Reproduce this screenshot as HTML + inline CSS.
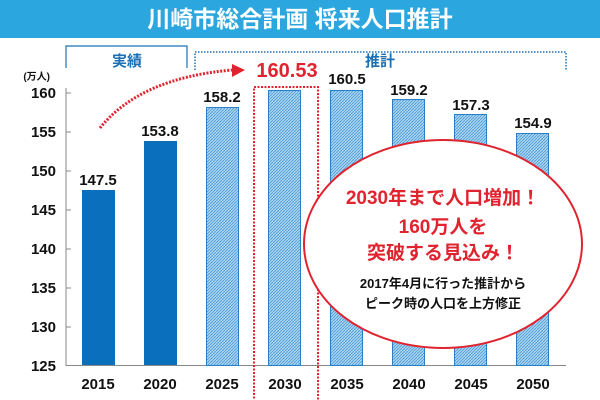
<!DOCTYPE html>
<html><head><meta charset="utf-8"><style>
body{margin:0;background:#fff}
svg{display:block;font-family:"Liberation Sans","Noto Sans CJK JP",sans-serif;font-weight:bold}
</style></head><body>
<svg width="600" height="400" viewBox="0 0 600 400">
<defs>
<pattern id="h" width="3" height="3" patternUnits="userSpaceOnUse">
<rect width="3" height="3" fill="#a9d5f1"/>
<path d="M0,3 L3,0" stroke="#4a97d4" stroke-width="0.8"/>
</pattern>
</defs>
<rect x="0" y="0" width="600" height="38" fill="#2ca6df"/>
<text x="300" y="27" font-size="23" fill="#fff" text-anchor="middle">川崎市総合計画 将来人口推計</text>
<path d="M66,68 V46 H187 V68" fill="none" stroke="#1a70b8" stroke-width="1.2"/>
<text x="127" y="66" font-size="15" fill="#1a6fb5" text-anchor="middle">実績</text>
<path d="M195,70 V52 H566 V70" fill="none" stroke="#1a70b8" stroke-width="1.5" stroke-dasharray="1.5,1.5"/>
<text x="380" y="66" font-size="15" fill="#1a6fb5" text-anchor="middle">推計</text>
<line x1="66" y1="88" x2="66" y2="366" stroke="#888" stroke-width="1"/>
<line x1="66" y1="365.5" x2="566" y2="365.5" stroke="#888" stroke-width="1"/>
<g font-size="15" fill="#111" text-anchor="end">
<text x="50" y="80" font-size="10">(万人)</text>
<text x="56" y="98">160</text><text x="56" y="137">155</text><text x="56" y="176">150</text>
<text x="56" y="215">145</text><text x="56" y="254">140</text><text x="56" y="293">135</text>
<text x="56" y="332">130</text><text x="56" y="371">125</text>
</g>
<g stroke="#888"><line x1="66" y1="93" x2="71" y2="93"/><line x1="66" y1="132" x2="71" y2="132"/><line x1="66" y1="171" x2="71" y2="171"/><line x1="66" y1="210" x2="71" y2="210"/><line x1="66" y1="249" x2="71" y2="249"/><line x1="66" y1="288" x2="71" y2="288"/><line x1="66" y1="327" x2="71" y2="327"/></g>
<rect x="82" y="190" width="33" height="175" fill="#0a6fbd"/>
<rect x="144" y="141" width="33" height="224" fill="#0a6fbd"/>
<g fill="url(#h)" stroke="#2a7fc8" stroke-width="1">
<rect x="206.5" y="107.5" width="32" height="258"/>
<rect x="268.5" y="90.5" width="32" height="275"/>
<rect x="330.5" y="90.5" width="32" height="275"/>
<rect x="392.5" y="99.5" width="32" height="266"/>
<rect x="454.5" y="114.5" width="32" height="251"/>
<rect x="516.5" y="133.5" width="32" height="232"/>
</g>
<g font-size="15" fill="#111" text-anchor="middle">
<text x="98" y="185">147.5</text><text x="160" y="136">153.8</text><text x="222" y="102">158.2</text>
<text x="347" y="84">160.5</text><text x="409" y="95">159.2</text><text x="471" y="110">157.3</text><text x="533" y="128">154.9</text>
<text x="98" y="389">2015</text><text x="160" y="389">2020</text><text x="222" y="389">2025</text><text x="285" y="389">2030</text>
<text x="347" y="389">2035</text><text x="409" y="389">2040</text><text x="471" y="389">2045</text><text x="533" y="389">2050</text>
</g>
<rect x="254" y="87" width="64" height="314" fill="none" stroke="#e0242f" stroke-width="2" stroke-dasharray="2,1.5"/>
<text x="287" y="77" font-size="20" fill="#e0242f" text-anchor="middle">160.53</text>
<path d="M100,128 Q140,78 232,70" fill="none" stroke="#e0242f" stroke-width="3" stroke-dasharray="2,1.5"/>
<path d="M232,64 L245,70 L232,77 Z" fill="#e0242f"/>
<ellipse cx="443" cy="244" rx="139" ry="104" fill="#fff" stroke="#e0242f" stroke-width="2"/>
<g text-anchor="middle">
<text x="443" y="204" font-size="19" fill="#e0242f">2030年まで人口増加！</text>
<text x="443" y="233" font-size="19" fill="#e0242f">160万人を</text>
<text x="443" y="259" font-size="19" fill="#e0242f">突破する見込み！</text>
<text x="443" y="288" font-size="13" fill="#111">2017年4月に行った推計から</text>
<text x="443" y="308" font-size="13" fill="#111">ピーク時の人口を上方修正</text>
</g>
</svg>
</body></html>
